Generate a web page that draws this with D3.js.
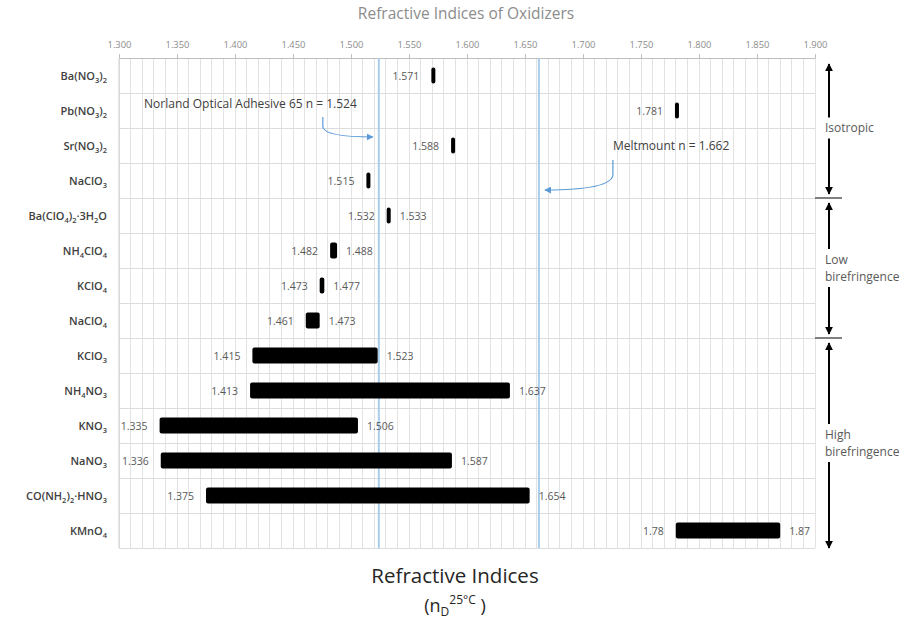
<!DOCTYPE html>
<html><head><meta charset="utf-8">
<script src="https://cdn.jsdelivr.net/npm/d3@7"></script>
<style>
body{margin:0;background:#fff}
svg{display:block}
text{font-family:"Open Sans","Noto Sans","Liberation Sans",sans-serif}
</style>
</head><body>
<svg id="chart" width="907" height="620"></svg>
<script>
// ---------------- data ----------------
const categories = ["Ba(NO_3)_2","Pb(NO_3)_2","Sr(NO_3)_2","NaClO_3","Ba(ClO_4)_2·3H_2O","NH_4ClO_4","KClO_4","NaClO_4","KClO_3","NH_4NO_3","KNO_3","NaNO_3","CO(NH_2)_2·HNO_3","KMnO_4"];
const lowValues  = [1.571,1.781,1.588,1.515,1.532,1.482,1.473,1.461,1.415,1.413,1.335,1.336,1.375,1.78];
const highValues = [1.571,1.781,1.588,1.515,1.533,1.488,1.477,1.473,1.523,1.637,1.506,1.587,1.654,1.87];
const xTicks = [1.300,1.350,1.400,1.450,1.500,1.550,1.600,1.650,1.700,1.750,1.800,1.850,1.900];
const refValues = [1.524,1.662];
const refLabels = ["Norland Optical Adhesive 65 n = 1.524","Meltmount n = 1.662"];
const groupNames = [["Isotropic"],["Low","birefringence"],["High","birefringence"]];
const groupSizes = [4,4,6];
const chartTitle = "Refractive Indices of Oxidizers";

// ---------------- layout ----------------
const svg = d3.select("#chart");
const L = 119, R = 815, T = 58, B = 548;
const x = d3.scaleLinear().domain([1.3,1.9]).range([L,R]);
const y = d3.scaleBand().domain(categories).range([T,B]).padding(0);
const barH = 16;

const defs = svg.append("defs");
function marker(id,color,w,h){
  defs.append("marker").attr("id",id).attr("viewBox","0 0 10 10").attr("refX",9).attr("refY",5)
    .attr("markerWidth",w).attr("markerHeight",h).attr("orient","auto-start-reverse")
    .attr("markerUnits","userSpaceOnUse")
    .append("path").attr("d","M0,0 L10,5 L0,10 z").attr("fill",color);
}
marker("blueHead","#5b9bd5",7,7);
marker("blackHead","#000",8,9);

// title
svg.append("text").attr("x",466).attr("y",19).attr("text-anchor","middle")
  .attr("font-size",15.5).attr("fill","#8c8c8c").text(chartTitle);

// grid
const minor = d3.range(0,61).map(i=>+(1.3+i*0.01).toFixed(2));
svg.append("g").selectAll("line").data(minor).join("line")
  .attr("x1",d=>x(d)).attr("x2",d=>x(d)).attr("y1",T).attr("y2",B)
  .attr("stroke","#e3e3e3").attr("stroke-width",1).attr("shape-rendering","crispEdges");
const hb = categories.map(c=>y(c)).concat([B]);
svg.append("g").selectAll("line").data(hb).join("line")
  .attr("x1",L).attr("x2",R).attr("y1",d=>d).attr("y2",d=>d)
  .attr("stroke","#dcdcdc").attr("stroke-width",1).attr("shape-rendering","crispEdges");

// top axis
const ax = svg.append("g").attr("transform",`translate(0,${T})`)
  .call(d3.axisTop(x).tickValues(xTicks).tickFormat(d3.format(".3f")).tickSize(4).tickPadding(6).tickSizeOuter(0));
ax.select(".domain").attr("stroke","#bfbfbf");
ax.selectAll(".tick line").attr("stroke","#bfbfbf");
ax.selectAll(".tick text").attr("fill","#8c8c8c").attr("font-size",9.4).attr("font-family","'Open Sans',sans-serif");

// left axis line
svg.append("line").attr("x1",L).attr("x2",L).attr("y1",T).attr("y2",B).attr("stroke","#d0d0d0");

// reference lines
svg.append("g").selectAll("line").data(refValues).join("line")
  .attr("x1",d=>x(d)).attr("x2",d=>x(d)).attr("y1",T).attr("y2",B)
  .attr("stroke","#a9cdeb").attr("stroke-width",2);

// helper: chemical labels with subscripts
function chem(sel, s, size){
  const parts = s.split(/(_\d+)/).filter(p=>p.length);
  let lowered = false;
  parts.forEach(p=>{
    if(p[0]==="_"){
      sel.append("tspan").attr("font-size",size*0.68).attr("dy",lowered?0:3).text(p.slice(1));
      lowered = true;
    } else {
      sel.append("tspan").attr("font-size",size).attr("dy",lowered?-3:0).text(p);
      lowered = false;
    }
  });
}

// category labels
categories.forEach(c=>{
  const t = svg.append("text").attr("x",107).attr("y",y(c)+y.bandwidth()/2+4)
    .attr("text-anchor","end").attr("fill","#404040").attr("font-weight","600");
  chem(t,c,11);
});

// bars
const rows = categories.map((c,i)=>({c,lo:lowValues[i],hi:highValues[i]}));
svg.append("g").selectAll("rect").data(rows).join("rect")
  .attr("x",d=>{const w=x(d.hi)-x(d.lo); return w<4 ? (x(d.lo)+x(d.hi))/2-2 : x(d.lo);})
  .attr("width",d=>Math.max(4,x(d.hi)-x(d.lo)))
  .attr("y",d=>y(d.c)+y.bandwidth()/2-barH/2).attr("height",barH)
  .attr("rx",2).attr("fill","#000");

// value labels
const vl = svg.append("g").attr("font-size",10.5).attr("fill","#595959");
rows.forEach(d=>{
  const w = Math.max(4,x(d.hi)-x(d.lo));
  const left = w===4 ? (x(d.lo)+x(d.hi))/2-2 : x(d.lo);
  const cy = y(d.c)+y.bandwidth()/2+4;
  vl.append("text").attr("x",left-12).attr("y",cy).attr("text-anchor","end").text(String(d.lo));
  if(d.hi!==d.lo){
    vl.append("text").attr("x",left+w+9).attr("y",cy).attr("text-anchor","start").text(String(d.hi));
  }
});

// reference annotations
const xN = x(refValues[0]), xM = x(refValues[1]);
svg.append("text").attr("x",xN-22).attr("y",108).attr("text-anchor","end")
  .attr("font-size",12).attr("fill","#404040").text(refLabels[0]);
svg.append("path").attr("d",`M${xN-56},117 V127 Q${xN-54},137 ${xN-6},137`)
  .attr("fill","none").attr("stroke","#5b9bd5").attr("stroke-width",1.2).attr("marker-end","url(#blueHead)");
svg.append("text").attr("x",xM+74).attr("y",150).attr("text-anchor","start")
  .attr("font-size",12).attr("fill","#404040").text(refLabels[1]);
svg.append("path").attr("d",`M${xM+74},160 V175 Q${xM+72},190 ${xM+6},190`)
  .attr("fill","none").attr("stroke","#5b9bd5").attr("stroke-width",1.2).attr("marker-end","url(#blueHead)");

// group brackets on the right
const ax2 = 829;
let start = 0;
groupSizes.forEach((n,gi)=>{
  const top = y(categories[start]);
  const bot = y(categories[start+n-1])+y.bandwidth();
  const mid = (top+bot)/2;
  const lines = groupNames[gi];
  const lh = 17;
  const h = lines.length*lh;
  const first = mid-(lines.length-1)*lh/2+4;
  lines.forEach((s,k)=>{
    svg.append("text").attr("x",825).attr("y",first+k*lh).attr("font-size",12)
      .attr("fill","#595959").text(s);
  });
  const tTop = mid-h/2-2, tBot = mid+h/2+2;
  svg.append("line").attr("x1",ax2).attr("x2",ax2).attr("y1",tTop).attr("y2",top+(gi===0?6:5))
    .attr("stroke","#000").attr("stroke-width",2).attr("marker-end","url(#blackHead)");
  svg.append("line").attr("x1",ax2).attr("x2",ax2).attr("y1",tBot).attr("y2",bot-(gi===2?0:4))
    .attr("stroke","#000").attr("stroke-width",2).attr("marker-end","url(#blackHead)");
  if(gi>0){
    svg.append("line").attr("x1",815).attr("x2",842).attr("y1",top).attr("y2",top)
      .attr("stroke","#808080").attr("stroke-width",2);
  }
  start += n;
});

// axis title
svg.append("text").attr("x",455).attr("y",583).attr("text-anchor","middle")
  .attr("font-size",20.5).attr("fill","#262626").text("Refractive Indices");
const st = svg.append("text").attr("x",455).attr("y",612).attr("text-anchor","middle")
  .attr("font-size",18).attr("fill","#262626");
st.append("tspan").text("(n");
st.append("tspan").attr("font-size",12).attr("dy",4).text("D");
st.append("tspan").attr("font-size",12).attr("dy",-12).text("25°C");
st.append("tspan").attr("dy",8).text(" )");
</script>
</body></html>
